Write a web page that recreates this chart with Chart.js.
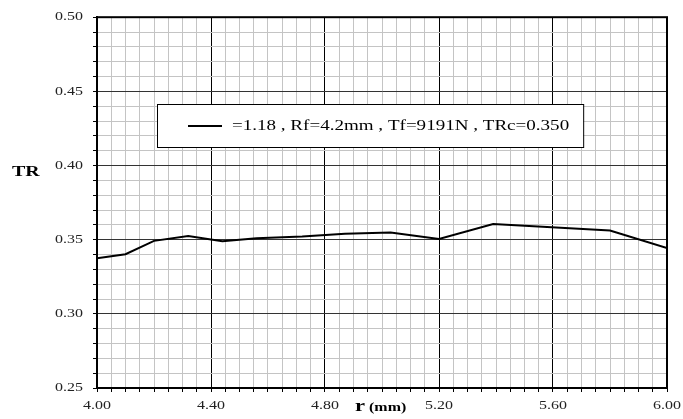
<!DOCTYPE html>
<html><head><meta charset="utf-8">
<script src="https://cdn.jsdelivr.net/npm/chart.js@4.4.1/dist/chart.umd.min.js"></script>
<style>html,body{margin:0;padding:0;background:#fff;}#wrap{width:683px;height:419px;}</style>
</head><body><div id="wrap"><canvas id="c" width="683" height="419"></canvas></div>
<script>
const rValues = [4.00, 4.10, 4.20, 4.32, 4.44, 4.56, 4.72, 4.87, 5.03, 5.20, 5.39, 5.80, 6.00];
const trValues = [0.3375, 0.3402, 0.3492, 0.3524, 0.3490, 0.3510, 0.3522, 0.3540, 0.3549, 0.3505, 0.3606, 0.3562, 0.3443];
const seriesLabel = "=1.18 , Rf=4.2mm , Tf=9191N , TRc=0.350";
const xTickLabels = ["4.00", "4.40", "4.80", "5.20", "5.60", "6.00"];
const yTickLabels = ["0.25", "0.30", "0.35", "0.40", "0.45", "0.50"];
const xTitle = "r (mm)";
const yTitle = "TR";

const serif = "'Liberation Serif', 'Times New Roman', serif";
const STRETCH = 1.33;

function stretchText(ctx, txt, x, y, align) {
  const w = ctx.measureText(txt).width * STRETCH;
  let left = x;
  if (align === 'center') left = x - w / 2;
  else if (align === 'right') left = x - w;
  ctx.save();
  ctx.translate(left, y);
  ctx.scale(STRETCH, 1);
  ctx.textAlign = 'left';
  ctx.fillText(txt, 0, 0);
  ctx.restore();
  return left + w;
}

const overlay = {
  id: 'overlay',
  afterDraw(chart) {
    const ctx = chart.ctx, a = chart.chartArea;
    ctx.save();
    // frame
    ctx.strokeStyle = '#000'; ctx.lineWidth = 2;
    ctx.strokeRect(a.left, a.top, a.right - a.left, a.bottom - a.top);
    // tick labels from the library's scales
    ctx.fillStyle = '#222'; ctx.font = '12px ' + serif; ctx.textBaseline = 'middle';
    const xs = chart.scales.x, ys = chart.scales.y;
    xs.ticks.forEach(t => { if (t.label) stretchText(ctx, t.label, xs.getPixelForValue(t.value), 406, 'center'); });
    ys.ticks.forEach(t => { if (t.label) stretchText(ctx, t.label, 83, ys.getPixelForValue(t.value), 'right'); });
    // legend
    ctx.font = '15px ' + serif;
    const label = chart.data.datasets[0].label;
    const tw = ctx.measureText(label).width * 1.27;
    const lx = 157, ly = 104, lw = (232 + tw + 14) - lx, lh = 43;
    ctx.fillStyle = '#fff'; ctx.fillRect(lx, ly, lw, lh);
    ctx.lineWidth = 1; ctx.strokeStyle = '#000';
    ctx.strokeRect(lx + 0.5, ly + 0.5, lw, lh);
    ctx.lineWidth = 2;
    ctx.beginPath(); ctx.moveTo(188, 126); ctx.lineTo(222, 126); ctx.stroke();
    ctx.fillStyle = '#000';
    ctx.save(); ctx.translate(232, 126); ctx.scale(1.27, 1); ctx.textAlign = 'left';
    ctx.fillText(label, 0, 0); ctx.restore();
    // axis titles
    ctx.font = 'bold 15px ' + serif;
    stretchText(ctx, yTitle, 12, 172, 'left');
    ctx.font = 'bold 17px ' + serif;
    const rx = stretchText(ctx, xTitle.split(' ')[0], 355, 407, 'left');
    ctx.font = 'bold 12px ' + serif;
    stretchText(ctx, xTitle.split(' ')[1], rx + 4, 408, 'left');
    ctx.restore();
  }
};

function near(v, step) { const k = v / step; return Math.abs(k - Math.round(k)) < 1e-6; }

new Chart(document.getElementById('c'), {
  type: 'line',
  data: {
    datasets: [{
      label: seriesLabel,
      data: rValues.map((r, i) => ({ x: r, y: trValues[i] })),
      borderColor: '#000', borderWidth: 2, pointRadius: 0, tension: 0, fill: false
    }]
  },
  options: {
    responsive: false, animation: false, devicePixelRatio: 1,
    layout: { padding: { top: 14, right: 16, left: 0, bottom: 0 } },
    plugins: { legend: { display: false }, tooltip: { enabled: false } },
    scales: {
      x: {
        type: 'linear', min: 4, max: 6,
        afterBuildTicks(s) { s.ticks = []; for (let i = 0; i <= 40; i++) s.ticks.push({ value: +(4 + i * 0.05).toFixed(2) }); },
        afterFit(s) { s.height = 31; },
        ticks: {
          autoSkip: false, maxRotation: 0, padding: 4, color: 'rgba(0,0,0,0)',
          font: { family: serif, size: 12 },
          callback(v) { const lbl = (+v).toFixed(2); return near(v - 4, 0.4) && xTickLabels.includes(lbl) ? lbl : ''; }
        },
        grid: {
          color: c => (c.tick && near(c.tick.value - 4, 0.4)) ? '#000' : '#c4c4c4',
          tickColor: '#000', tickLength: 4, lineWidth: 1
        },
        border: { display: true, color: '#000', width: 2 }
      },
      y: {
        type: 'linear', min: 0.25, max: 0.50,
        afterBuildTicks(s) { s.ticks = []; for (let i = 0; i <= 25; i++) s.ticks.push({ value: +(0.25 + i * 0.01).toFixed(2) }); },
        afterFit(s) { s.width = 97; },
        ticks: {
          autoSkip: false, padding: 10, color: 'rgba(0,0,0,0)',
          font: { family: serif, size: 12 },
          callback(v) { const lbl = (+v).toFixed(2); return near(v, 0.05) && yTickLabels.includes(lbl) ? lbl : ''; }
        },
        grid: {
          color: c => (c.tick && near(c.tick.value, 0.05)) ? '#333' : '#c4c4c4',
          tickColor: '#000', tickLength: 4, lineWidth: 1
        },
        border: { display: true, color: '#000', width: 2 }
      }
    }
  },
  plugins: [overlay]
});
</script></body></html>
